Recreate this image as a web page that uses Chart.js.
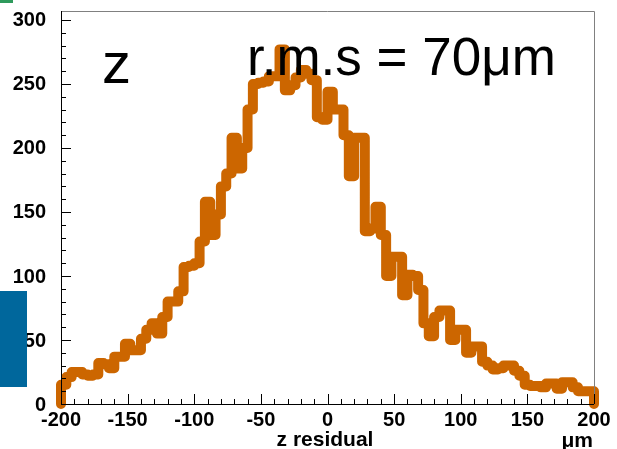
<!DOCTYPE html>
<html>
<head>
<meta charset="utf-8">
<script src="https://cdn.jsdelivr.net/npm/chart.js@4.4.0/dist/chart.umd.min.js"></script>
<style>
  html, body { margin: 0; padding: 0; background: #fff; }
  #wrap { position: relative; width: 617px; height: 449px; }
  #blue { position: absolute; left: 0; top: 291px; width: 27px; height: 96px; background: #00679c; }
  #green { position: absolute; left: 0; top: 0; width: 13px; height: 3px; background: #2e9a5c; }
</style>
</head>
<body>
<div id="wrap">
  <canvas id="my" width="617" height="449"></canvas>
  <div id="blue"></div>
  <div id="green"></div>
</div>
<script>
// histogram of z residuals, 4 um bins from -200 to 200
const binStart = -200;
const binWidth = 4;
const counts = [
  15, 15, 21, 25, 25, 23, 22, 23, 32, 31,
  28, 37, 37, 47, 42, 42, 51, 58, 63, 55,
  68, 80, 80, 88, 107, 108, 110, 127, 158, 132,
  148, 170, 180, 208, 184, 200, 230, 250, 251, 252,
  256, 256, 277, 245, 249, 255, 261, 258, 253, 224,
  222, 244, 230, 230, 210, 178, 208, 208, 135, 137,
  154, 132, 100, 115, 115, 85, 101, 100, 89, 63,
  53, 68, 73, 73, 50, 58, 58, 40, 45, 45,
  33, 30, 27, 28, 30, 30, 26, 22, 15, 14,
  14, 13, 16, 16, 12, 17, 17, 13, 10, 10
];
const xTicks = [-200, -150, -100, -50, 0, 50, 100, 150, 200];
const yTicks = [0, 50, 100, 150, 200, 250, 300];
const xMin = -200, xMax = 200, yMax = 307;

// step points: drop to zero at both ends like the ROOT histogram
const pts = [{x: binStart, y: 0}];
counts.forEach((c, i) => pts.push({x: binStart + i * binWidth, y: c}));
pts.push({x: binStart + counts.length * binWidth, y: counts[counts.length - 1]});
pts.push({x: binStart + counts.length * binWidth, y: 0});

const axisPlugin = {
  id: 'rootAxes',
  afterDraw(chart) {
    const ctx = chart.ctx;
    const a = chart.chartArea;
    const xs = chart.scales.x, ys = chart.scales.y;
    ctx.save();
    // frame top/right
    ctx.strokeStyle = '#808080';
    ctx.lineWidth = 1;
    ctx.beginPath();
    ctx.moveTo(a.left, a.top + 0.5);
    ctx.lineTo(a.right + 0.5, a.top + 0.5);
    ctx.lineTo(a.right + 0.5, a.bottom);
    ctx.stroke();
    // axes
    ctx.strokeStyle = '#000';
    ctx.beginPath();
    ctx.moveTo(a.left + 0.5, a.top);
    ctx.lineTo(a.left + 0.5, a.bottom + 0.5);
    ctx.lineTo(a.right, a.bottom + 0.5);
    ctx.stroke();
    // y ticks, inward
    ctx.beginPath();
    for (let v = 0; v <= yMax; v += 10) {
      const p = Math.round(ys.getPixelForValue(v)) + 0.5;
      const len = v % 50 === 0 ? 10 : 5;
      ctx.moveTo(a.left, p);
      ctx.lineTo(a.left + len, p);
    }
    // x ticks, inward
    for (let v = xMin; v <= xMax; v += 10) {
      const p = Math.round(xs.getPixelForValue(v)) + 0.5;
      const len = v % 50 === 0 ? 10 : 5;
      ctx.moveTo(p, a.bottom);
      ctx.lineTo(p, a.bottom - len);
    }
    ctx.stroke();
    // tick labels
    ctx.fillStyle = '#000';
    ctx.font = 'bold 20px "Liberation Sans", Arial, sans-serif';
    ctx.textAlign = 'right';
    ctx.textBaseline = 'middle';
    yTicks.forEach(v => ctx.fillText(String(v), 46, ys.getPixelForValue(v) + 1));
    ctx.textAlign = 'center';
    ctx.textBaseline = 'top';
    xTicks.forEach(v => ctx.fillText(String(v), xs.getPixelForValue(v), 410));
    // axis titles
    ctx.textBaseline = 'alphabetic';
    ctx.font = 'bold 21px "Liberation Sans", Arial, sans-serif';
    ctx.fillText('z residual', 325, 446);
    ctx.textAlign = 'right';
    ctx.fillText('\u03bcm', 593, 447);
    // annotations
    ctx.textAlign = 'left';
    ctx.font = '58px "Liberation Sans", Arial, sans-serif';
    ctx.fillText('z', 102, 83);
    ctx.font = '53px "Liberation Sans", Arial, sans-serif';
    ctx.fillText('r.m.s = 70\u03bcm', 247, 75);
    ctx.restore();
  }
};

const ctxLine = document.getElementById('my').getContext('2d');
new Chart(ctxLine, {
  type: 'line',
  data: {
    datasets: [{
      data: pts,
      stepped: 'after',
      borderColor: '#cc6600',
      borderWidth: 10,
      borderJoinStyle: 'round',
      borderCapStyle: 'round',
      pointRadius: 0,
      fill: false,
      clip: false
    }]
  },
  options: {
    responsive: false,
    animation: false,
    events: [],
    layout: { padding: { left: 61, top: 11, right: 23, bottom: 45 } },
    plugins: { legend: { display: false }, tooltip: { enabled: false } },
    scales: {
      x: { type: 'linear', min: xMin, max: xMax, display: false },
      y: { type: 'linear', min: 0, max: yMax, display: false }
    }
  },
  plugins: [axisPlugin]
});
</script>
</body>
</html>
